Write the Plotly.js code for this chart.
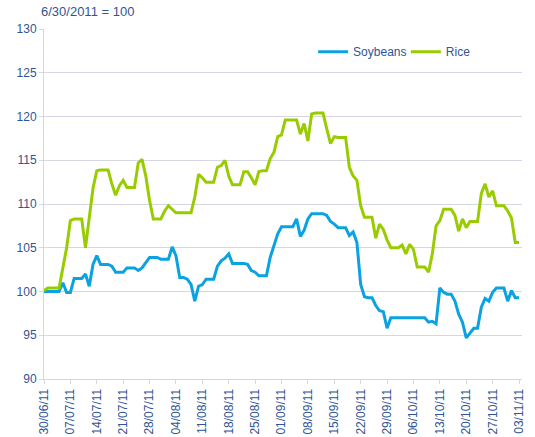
<!DOCTYPE html>
<html>
<head>
<meta charset="utf-8">
<script src="https://cdn.plot.ly/plotly-3.0.1.min.js"></script>
<style>
html,body{margin:0;padding:0;background:#fff;}
#chart{width:535px;height:437px;}
</style>
</head>
<body>
<div id="chart"></div>
<script>
// Daily index values, 30/06/2011 .. 03/11/2011 (6/30/2011 = 100)
const START_DATE = [2011, 5, 30]; // year, month index, day
const seriesNames = ['Soybeans', 'Rice'];
const soybeans = [
  100.0,100.0,100.0,100.0,100.0,101.0,99.9,99.9,101.5,101.5,
  101.5,102.0,100.6,103.1,104.1,103.1,103.1,103.1,102.9,102.2,
  102.2,102.2,102.7,102.7,102.7,102.4,102.7,103.3,103.9,103.9,
  103.9,103.7,103.7,103.7,105.1,104.1,101.6,101.6,101.4,100.8,
  98.9,100.6,100.8,101.4,101.4,101.4,102.9,103.5,103.8,104.3,
  103.2,103.2,103.2,103.2,103.1,102.4,102.2,101.8,101.8,101.8,
  103.9,105.4,106.6,107.4,107.4,107.4,107.4,108.3,106.3,107.0,
  108.3,108.9,108.9,108.9,108.9,108.7,108.0,107.7,107.3,107.3,
  107.3,106.4,106.8,105.6,100.8,99.4,99.3,99.3,98.4,97.8,
  97.7,95.8,97.0,97.0,97.0,97.0,97.0,97.0,97.0,97.0,
  97.0,97.0,96.5,96.6,96.3,100.4,99.9,99.7,99.7,98.9,
  97.4,96.5,94.7,95.3,95.8,95.8,98.2,99.2,98.9,99.9,
  100.4,100.4,100.4,98.9,100.1,99.3,99.3
];
const rice = [
  100.1,100.4,100.4,100.4,100.4,102.7,105.0,108.1,108.3,108.3,
  108.3,105.0,108.4,111.8,113.8,113.9,113.9,113.9,112.3,111.0,
  112.1,112.7,111.9,111.9,111.9,114.7,115.1,113.2,110.4,108.3,
  108.3,108.3,109.2,109.8,109.4,109.0,109.0,109.0,109.0,109.0,
  110.8,113.4,113.0,112.5,112.5,112.5,114.2,114.4,115.0,113.2,
  112.2,112.2,112.2,113.7,113.7,113.0,112.2,113.7,113.8,113.8,
  115.2,115.9,117.7,117.9,119.6,119.6,119.6,119.6,118.0,119.2,
  117.2,120.3,120.4,120.4,120.4,118.6,116.9,117.7,117.6,117.6,
  117.6,114.2,113.2,112.7,109.8,108.5,108.5,108.5,106.1,107.7,
  107.1,105.9,105.0,105.0,105.0,105.3,104.3,105.4,104.8,102.8,
  102.8,102.8,102.2,104.3,107.5,108.1,109.4,109.4,109.4,108.7,
  106.9,108.3,107.3,108.0,108.0,108.0,111.2,112.3,110.8,111.5,
  109.8,109.8,109.8,109.2,108.4,105.6,105.6
];
const noteText = '6/30/2011 = 100';

const dates = soybeans.map((_, i) => {
  const d = new Date(Date.UTC(START_DATE[0], START_DATE[1], START_DATE[2] + i));
  return d.toISOString().slice(0, 10);
});

const FONT = 'Liberation Sans, Arial, sans-serif';
const TXT = '#2f5597';
const GRID = '#d6d6e6';

const traces = [
  {x: dates, y: soybeans, name: seriesNames[0], type: 'scatter', mode: 'lines',
   line: {color: '#0aa2e0', width: 3}, legend: 'legend'},
  {x: dates, y: rice, name: seriesNames[1], type: 'scatter', mode: 'lines',
   line: {color: '#99cc00', width: 3}, legend: 'legend2'}
];

const legendBase = {
  orientation: 'h', xref: 'paper', yref: 'paper',
  y: 0.935, xanchor: 'left', yanchor: 'middle',
  font: {family: FONT, size: 12, color: TXT}, bgcolor: 'rgba(0,0,0,0)'
};

const layout = {
  width: 535, height: 437,
  margin: {l: 44, r: 13, t: 29, b: 58, autoexpand: false},
  paper_bgcolor: '#fff', plot_bgcolor: '#fff',
  font: {family: FONT, size: 12, color: TXT},
  showlegend: true,
  legend: Object.assign({}, legendBase, {x: 0.563}),
  legend2: Object.assign({}, legendBase, {x: 0.757}),
  xaxis: {
    type: 'date',
    range: ['2011-06-30', '2011-11-03 19:00'],
    tick0: '2011-06-30', dtick: 7 * 86400000,
    tickformat: '%d/%m/%y', tickangle: -90,
    ticks: 'outside', ticklen: 4, tickcolor: GRID,
    showgrid: false, showline: true, linecolor: GRID, linewidth: 1,
    zeroline: false, automargin: false,
    tickfont: {family: FONT, size: 12, color: TXT}
  },
  yaxis: {
    range: [90, 130], dtick: 5,
    ticks: 'outside', ticklen: 4, tickcolor: GRID,
    showgrid: true, gridcolor: GRID, gridwidth: 1,
    showline: true, linecolor: GRID, linewidth: 1,
    zeroline: false, automargin: false,
    tickfont: {family: FONT, size: 12, color: TXT}
  },
  annotations: [{
    text: noteText, xref: 'paper', yref: 'paper',
    x: -0.0105, y: 1.049, xanchor: 'left', yanchor: 'middle',
    showarrow: false, font: {family: FONT, size: 13, color: TXT}
  }]
};

Plotly.newPlot('chart', traces, layout, {displayModeBar: false, staticPlot: true});
</script>
</body>
</html>
